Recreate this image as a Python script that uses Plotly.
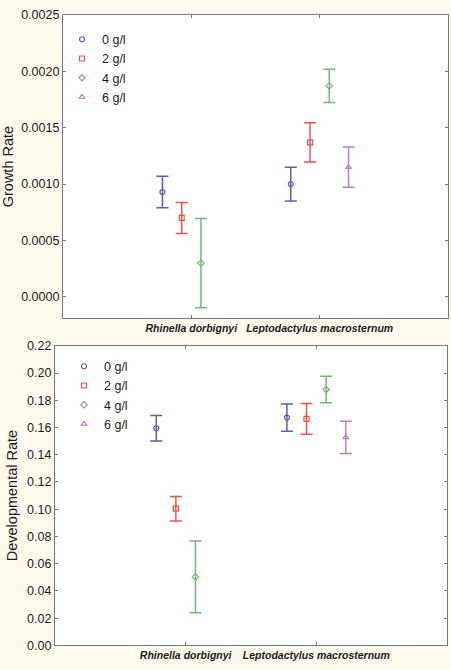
import plotly.graph_objects as go

categories = ["Rhinella dorbignyi", "Leptodactylus macrosternum"]
series_names = ["0 g/l", "2 g/l", "4 g/l", "6 g/l"]

growth_mean = {
    "0 g/l": [0.00093, 0.00100],
    "2 g/l": [0.00070, 0.00137],
    "4 g/l": [0.00030, 0.00187],
    "6 g/l": [None, 0.00115],
}
growth_err = {
    "0 g/l": [0.00014, 0.00015],
    "2 g/l": [0.000137, 0.000174],
    "4 g/l": [0.000396, 0.000148],
    "6 g/l": [None, 0.000178],
}
dev_mean = {
    "0 g/l": [0.1594, 0.1673],
    "2 g/l": [0.1004, 0.1663],
    "4 g/l": [0.0503, 0.1879],
    "6 g/l": [None, 0.1527],
}
dev_err = {
    "0 g/l": [0.0094, 0.0100],
    "2 g/l": [0.0090, 0.0113],
    "4 g/l": [0.0264, 0.0098],
    "6 g/l": [None, 0.0118],
}

growth_ticks = [0.0, 0.0005, 0.0010, 0.0015, 0.0020, 0.0025]
dev_ticks = [0.00, 0.02, 0.04, 0.06, 0.08, 0.10, 0.12, 0.14, 0.16, 0.18, 0.20, 0.22]

colors = ["#5b5bb8", "#f0504a", "#72b872", "#c07cc4"]
symbols = ["circle-open", "square-open", "diamond-open", "triangle-up-open"]
offsets = [-0.225, -0.075, 0.075, 0.225]

W, H = 451, 670
fig = go.Figure()


def add_panel(means, errs, xa, ya, legend):
    for i, name in enumerate(series_names):
        xs, ys, es = [], [], []
        for ci, cat in enumerate(categories):
            v = means[name][ci]
            if v is None:
                continue
            xs.append(ci + 1 + offsets[i])
            ys.append(v)
            es.append(errs[name][ci])
        fig.add_trace(go.Scatter(
            x=xs, y=ys, mode="markers", name=name,
            xaxis=xa, yaxis=ya, legend=legend,
            marker=dict(symbol=symbols[i], size=5, color=colors[i],
                        line=dict(width=1.2, color=colors[i])),
            error_y=dict(type="data", array=es, visible=True,
                         color=colors[i], thickness=1.5, width=6),
        ))


add_panel(growth_mean, growth_err, "x", "y", "legend")
add_panel(dev_mean, dev_err, "x2", "y2", "legend2")

axis_common = dict(showline=True, linecolor="#777777", linewidth=1.2, mirror="ticks",
                   ticks="inside", ticklen=3, tickcolor="#777777", showgrid=False,
                   zeroline=False)
FONT = "Liberation Sans, Arial"
tick_font = dict(family=FONT, size=12.5, color="#1a1a1a")
cat_font = dict(family=FONT, size=10.5, color="#1a1a1a")
title_font = dict(family=FONT, size=14.5, color="#1a1a1a")
cat_text = ["<b><i>%s</i></b>" % c for c in categories]

fig.update_layout(
    width=W, height=H,
    margin=dict(l=0, r=0, t=0, b=0),
    paper_bgcolor="#fff9ec",
    plot_bgcolor="#ffffff",
    showlegend=True,
    xaxis=dict(domain=[63 / W, 448 / W], range=[0, 3], anchor="y",
               tickvals=[1, 2], ticktext=cat_text, tickfont=cat_font,
               **axis_common),
    yaxis=dict(domain=[(H - 318) / H, (H - 8) / H], anchor="x",
               range=[-0.00019, 0.0025], tickvals=growth_ticks, tickformat=".4f",
               tickfont=tick_font,
               title=dict(text="Growth Rate", font=title_font, standoff=5),
               **axis_common),
    xaxis2=dict(domain=[55 / W, 447 / W], range=[0, 3], anchor="y2",
                tickvals=[1, 2], ticktext=cat_text, tickfont=cat_font,
                **axis_common),
    yaxis2=dict(domain=[(H - 652) / H, (H - 346) / H], anchor="x2",
                range=[0, 0.22], tickvals=dev_ticks, tickformat=".2f",
                tickfont=tick_font,
                title=dict(text="Developmental Rate", font=title_font, standoff=5),
                **axis_common),
    legend=dict(x=62 / W, y=(H - 18) / H, xanchor="left", yanchor="top",
                bgcolor="rgba(0,0,0,0)", font=dict(family=FONT, size=12.5, color="#1a1a1a"),
                tracegroupgap=0, itemwidth=30),
    legend2=dict(x=64 / W, y=(H - 352) / H, xanchor="left", yanchor="top",
                 bgcolor="rgba(0,0,0,0)", font=dict(family=FONT, size=12.5, color="#1a1a1a"),
                 tracegroupgap=0, itemwidth=30),
)

fig.write_html("out.html")
